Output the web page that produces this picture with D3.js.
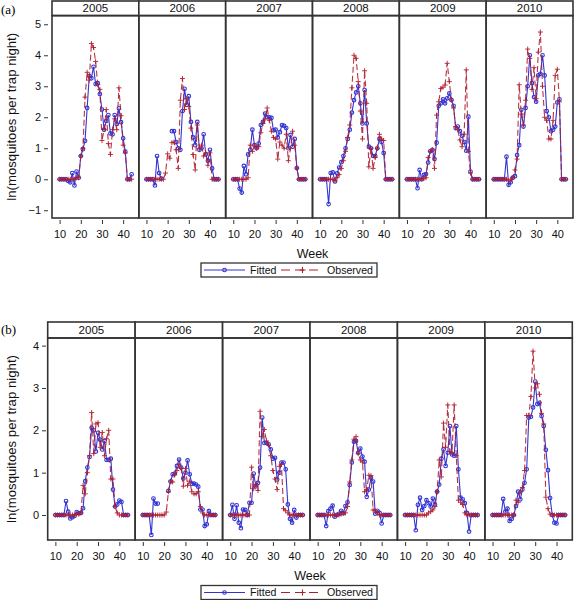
<!DOCTYPE html>
<html><head><meta charset="utf-8">
<script src="https://cdn.jsdelivr.net/npm/d3@7"></script>
<style>body{margin:0;background:#fff}svg{display:block}</style>
</head><body>
<svg id="c" width="574" height="600"></svg>
<script>
// ---------------- DATA ----------------
const weeks = d3.range(10, 45); // 10..44
const years = ["2005", "2006", "2007", "2008", "2009", "2010"];
const yTicksA = [-1, 0, 1, 2, 3, 4, 5];
const yTicksB = [0, 1, 2, 3, 4];
const xTicks = [10, 20, 30, 40];
const seriesNames = ["Fitted", "Observed"];

// Panel (a)
const fittedA2005 = [0,0,0,0,-0.05,-0.1,0.2,-0.2,0.25,0.05,0.75,0.97,1.24,2.3,3.33,3.26,3.63,3.07,3.1,2.75,2.25,1.6,1.88,2.07,1.48,1.45,2.07,1.78,2.29,1.84,1.32,0.89,0,0,0.16];
const observedA2005 = [0,0,0,0,0,0,0,0,0.05,0.05,0.75,1.0,2.65,3.45,3.2,4.38,4.25,3.8,3.05,2.9,1.25,1.6,2.25,1.15,0.8,1.6,1.95,1.6,2.95,2.05,1.1,0.85,0,0,0];
const fittedA2006 = [0,0,0,0,-0.2,0.75,0.2,0.02,null,null,null,null,1.55,1.55,1.2,1.0,0.95,2.2,2.92,2.4,2.68,1.85,1.35,1.1,1.85,0.95,1.0,1.45,0.8,0.6,0.95,0.35,0,0,0];
const observedA2006 = [0,0,0,0,0,0,0,0,0,0.2,0.82,0.68,1.18,1.2,0.95,0.35,2.55,3.25,2.25,2.6,2.35,1.65,0.8,0.3,1.75,1.0,1.1,0.75,0.85,0.45,0.85,0,0,0,0];
const fittedA2007 = [0,0,0,-0.3,-0.43,0.43,0.16,0.8,0.95,1.6,1.1,1.0,1.15,1.75,1.85,2.12,2.0,2.0,1.98,1.58,1.6,1.35,1.52,1.75,1.72,1.65,1.0,1.43,1.05,1.3,0.36,0,0,0,0];
const observedA2007 = [0,0,0,0,0,0,0,0.05,1.1,0.9,1.1,1.0,1.05,1.5,1.8,1.95,2.3,1.9,1.55,1.35,1.3,0.65,1.2,1.1,1.0,1.45,0.6,1.0,1.55,1.1,0.36,0,0,0,0];
const fittedA2008 = [0,0,0,0,-0.8,0.2,0.22,-0.07,0.19,0.38,0.55,0.75,1.0,1.3,1.6,2.15,2.55,2.8,3.0,2.45,1.8,2.88,1.8,1.05,1.0,0.75,0.75,1.0,1.3,1.2,0.85,0,0,0,0];
const observedA2008 = [0,0,0,0,0,0,0,-0.05,0.05,0.15,0.35,0.6,0.9,1.35,1.75,2.95,4.0,3.9,3.15,2.2,1.3,3.5,2.45,0.4,1.0,0.35,0.7,1.0,1.45,1.3,1.25,0,0,0,0];
const fittedA2009 = [0,0,0,0,0,-0.29,0.3,0,0.14,0.17,0.54,0.9,0.95,0.65,1.18,2.37,2.45,2.58,2.45,2.61,2.77,2.56,2.37,1.65,1.7,1.55,1.4,1.2,0.92,2.02,0.25,0,0,0,0];
const observedA2009 = [0,0,0,0,0,0,0,0,0.02,0.05,0.7,0.9,0.95,0.35,2.07,2.5,2.93,2.97,3.04,3.74,3.15,2.55,2.3,1.7,1.6,1.27,1.05,1.45,3.53,0.9,0.2,0,0,0,0];
const fittedA2010 = [0,0,0,0,0,0,0.73,-0.18,-0.1,0.05,0.1,0.78,1.1,2.24,1.7,2.3,3.0,4.0,3.1,2.65,2.5,3.35,3.4,4.0,3.35,2.2,2.0,1.55,1.6,1.7,2.48,2.58,0,0,0];
const observedA2010 = [0,0,0,0,0,0,0,-0.05,0,0.05,0.3,0.65,3.05,2.1,1.75,2.55,4.2,3.9,2.9,3.6,2.6,4.1,4.75,3.0,2.0,1.9,1.3,1.3,1.9,3.35,3.55,2.5,0,0,0];

// Panel (b)
const fittedB2005 = [0,0,0,0,0,0.33,0.08,-0.08,-0.05,-0.02,0.07,0.04,0.05,0.16,0.8,1.12,1.37,2.06,2.0,1.5,1.94,1.78,1.55,1.75,1.3,1.3,1.33,0.6,0.2,0.25,0.34,0.31,0,0,0];
const observedB2005 = [0,0,0,0,0,0,0,0,0,0,0.02,0.02,0.05,0.7,0.5,1.0,1.4,2.42,1.45,2.15,2.18,1.6,1.95,1.4,1.8,2.0,0.85,0.85,0.2,0.05,0,0,0,0,0];
const fittedB2006 = [0,0,0,0,-0.47,0.39,0.27,0.27,null,null,null,null,0.57,0.79,0.96,0.98,1.16,1.31,1.12,0.86,1.0,1.29,0.96,0.74,0.74,0.72,0.67,0.13,0.13,-0.26,-0.22,0.09,0,0,0];
const observedB2006 = [0,0,0,0,0,0,0,0,0,0,0,0.07,0.55,0.8,0.78,0.95,1.05,1.2,1.1,0.68,1.1,0.7,0.8,0.55,0.5,0.5,0.55,0.2,0.05,0,0,0,0,0,0];
const fittedB2007 = [0,0.24,-0.09,0.23,-0.18,-0.31,0.13,0.12,0.0,0.29,0.29,0.98,0.68,0.76,1.12,2.3,1.7,1.7,1.67,1.55,1.33,1.35,0.84,1.0,1.24,1.24,1.08,0.25,-0.09,-0.18,0.12,-0.06,0,0,0];
const observedB2007 = [0,0,0,0,0,0,0,0,0,0,1.13,0.62,0.72,0.58,2.45,1.85,2.02,1.75,1.65,1.4,1.05,0.85,0.6,1.15,1.2,0.15,0.1,0.05,0,0,0,0,0,0,0];
const fittedB2008 = [0,0,0,0,-0.26,0.09,0.15,0.22,-0.04,0.0,0.03,0.1,0.04,0.21,0.3,0.71,1.24,1.73,1.75,1.47,1.57,1.38,1.26,0.43,0.6,0.88,0.79,0.03,0.1,0.05,-0.2,0,0,0,0];
const observedB2008 = [0,0,0,0,0,0,0,0,0,0,0,0.02,0.05,0.05,0.2,0.78,1.3,1.79,1.85,1.45,1.3,1.25,0.55,0.6,0.94,0.93,0.12,0.1,0.05,0,0,0,0,0,0];
const fittedB2009 = [0,0,0,0,0,-0.36,0.24,0.41,0.12,0.21,0.35,0.28,0.2,0.39,0.25,0.55,0.72,1.33,1.55,1.16,1.47,2.1,1.43,1.4,2.1,1.08,0.41,0.37,0.28,0.05,-0.39,0,0,0,0];
const observedB2009 = [0,0,0,0,0,0,0,0,0,0,0,0.05,0.08,0.12,0.2,0.55,1.3,0.9,2.17,1.6,2.6,1.5,1.47,2.6,1.4,0.35,0.3,0.25,0.05,0,0,0,0,0,0];
const fittedB2010 = [0,0,0,0,0,0.38,0.08,0.15,-0.14,-0.09,0.0,0.21,0.55,0.37,0.6,0.76,1.08,2.3,2.32,2.54,3.15,2.62,2.65,2.34,2.1,1.54,1.06,0.4,0.0,-0.18,-0.2,0,0,0,0];
const observedB2010 = [0,0,0,0,0,0,0,0,0,0,0,0.35,0.3,0.55,0.65,1.05,2.35,2.35,2.8,3.87,3.0,3.1,2.85,2.4,2.15,0.42,0.15,0.02,0,0,0,0,0,0,0];

// build tables
const fittedA = [fittedA2005, fittedA2006, fittedA2007, fittedA2008, fittedA2009, fittedA2010];
const observedA = [observedA2005, observedA2006, observedA2007, observedA2008, observedA2009, observedA2010];
const fittedB = [fittedB2005, fittedB2006, fittedB2007, fittedB2008, fittedB2009, fittedB2010];
const observedB = [observedB2005, observedB2006, observedB2007, observedB2008, observedB2009, observedB2010];

// ---------------- DRAW ----------------
const svg = d3.select("#c");
const BLUE = "#3434d2", RED = "#b01e2e", FRAME = "#333";
const FONT = "'Liberation Sans', Arial, sans-serif";

function drawBlock(cfg) {
  const g = svg.append("g");
  const band = d3.scaleBand().domain(years).range([cfg.left, cfg.right]).padding(0);
  const bw = band.bandwidth();
  const x = d3.scaleLinear().domain([6.4, 47.4]).range([0, bw]);
  const y = d3.scaleLinear().domain(cfg.yDomain).range([cfg.plotBottom, cfg.plotTop]);

  // label (a)/(b)
  g.append("text").attr("x", 1).attr("y", cfg.labelY)
    .attr("font-family", "'Liberation Serif', 'Times New Roman', serif")
    .attr("font-size", 13).text(cfg.label);

  // y axis label
  g.append("text")
    .attr("transform", `translate(${cfg.yLabelX},${(cfg.plotTop + cfg.plotBottom) / 2}) rotate(-90)`)
    .attr("text-anchor", "middle").attr("font-family", FONT).attr("font-size", 13.2)
    .attr("fill", "#111")
    .text("ln(mosquitoes per trap night)");

  // y axis
  const yAxis = d3.axisLeft(y).tickValues(cfg.yTicks).tickSize(4).tickPadding(3).tickFormat(d3.format("d"));
  const ya = g.append("g").attr("transform", `translate(${cfg.yAxisX},0)`).call(yAxis);
  ya.select(".domain").remove();
  ya.selectAll("text").attr("font-family", FONT).attr("font-size", 11).attr("fill", "#111");
  ya.selectAll("line").attr("stroke", "#333");

  years.forEach((yr, i) => {
    const x0 = band(yr);
    const pg = g.append("g").attr("transform", `translate(${x0},0)`);
    // strip
    pg.append("rect").attr("x", 0).attr("y", cfg.stripTop).attr("width", bw)
      .attr("height", cfg.plotTop - cfg.stripTop).attr("fill", "#fff")
      .attr("stroke", FRAME).attr("stroke-width", 1.6);
    pg.append("text").attr("x", bw / 2).attr("y", cfg.stripTop + (cfg.plotTop - cfg.stripTop) / 2 + 4)
      .attr("text-anchor", "middle").attr("font-family", FONT).attr("font-size", 11.5)
      .attr("fill", "#111").text(yr);

    // x axis
    const xa = pg.append("g").attr("transform", `translate(0,${cfg.plotBottom + 2})`)
      .call(d3.axisBottom(x).tickValues(xTicks).tickSize(4).tickPadding(6));
    xa.select(".domain").remove();
    xa.selectAll("text").attr("font-family", FONT).attr("font-size", 11).attr("fill", "#111");
    xa.selectAll("line").attr("stroke", "#333");

    const fit = cfg.fitted[i].map((v, k) => ({ w: weeks[k], v }));
    const obs = cfg.observed[i].map((v, k) => ({ w: weeks[k], v }));
    const line = d3.line().defined(d => d.v !== null).x(d => x(d.w)).y(d => y(d.v));

    // fitted
    pg.append("path").datum(fit).attr("d", line).attr("fill", "none")
      .attr("stroke", BLUE).attr("stroke-width", 1.1);
    pg.selectAll("circle.f").data(fit.filter(d => d.v !== null)).join("circle")
      .attr("cx", d => x(d.w)).attr("cy", d => y(d.v)).attr("r", 1.8)
      .attr("fill", "none").attr("stroke", BLUE).attr("stroke-width", 1.1);

    // observed
    pg.append("path").datum(obs).attr("d", line).attr("fill", "none")
      .attr("stroke", RED).attr("stroke-width", 1.1).attr("stroke-dasharray", "6,3")
      .attr("opacity", 0.9);
    pg.selectAll("path.p").data(obs.filter(d => d.v !== null)).join("path")
      .attr("d", d => `M${x(d.w) - 2.5},${y(d.v)}H${x(d.w) + 2.5}M${x(d.w)},${y(d.v) - 2.5}V${y(d.v) + 2.5}`)
      .attr("stroke", RED).attr("stroke-width", 1).attr("opacity", 0.9);

    // panel frame
    pg.append("rect").attr("x", 0).attr("y", cfg.plotTop).attr("width", bw)
      .attr("height", cfg.plotBottom - cfg.plotTop).attr("fill", "none")
      .attr("stroke", FRAME).attr("stroke-width", 1.6);
  });

  // Week label
  g.append("text").attr("x", (cfg.left + cfg.right) / 2).attr("y", cfg.weekY)
    .attr("text-anchor", "middle").attr("font-family", FONT).attr("font-size", 12.5)
    .attr("fill", "#111").text("Week");

  // legend
  const lg = g.append("g").attr("transform", `translate(201,${cfg.legendY})`);
  lg.append("rect").attr("width", 176).attr("height", 14).attr("fill", "#fff")
    .attr("stroke", FRAME).attr("stroke-width", 1.3);
  const cy = 7;
  lg.append("line").attr("x1", 3).attr("x2", 44).attr("y1", cy).attr("y2", cy)
    .attr("stroke", BLUE).attr("stroke-width", 1.1);
  lg.append("circle").attr("cx", 23.5).attr("cy", cy).attr("r", 1.8)
    .attr("fill", "none").attr("stroke", BLUE).attr("stroke-width", 1.1);
  lg.append("text").attr("x", 49).attr("y", cy + 3.8).attr("font-family", FONT)
    .attr("font-size", 10.6).attr("fill", "#111").text(seriesNames[0]);
  lg.append("line").attr("x1", 80).attr("x2", 121).attr("y1", cy).attr("y2", cy)
    .attr("stroke", RED).attr("stroke-width", 1.1).attr("stroke-dasharray", "9,5");
  lg.append("path").attr("d", `M${101.5 - 3},${cy}H${101.5 + 3}M101.5,${cy - 3}V${cy + 3}`)
    .attr("stroke", RED).attr("stroke-width", 1.1);
  lg.append("text").attr("x", 126).attr("y", cy + 3.8).attr("font-family", FONT)
    .attr("font-size", 10.6).attr("fill", "#111").text(seriesNames[1]);
}

drawBlock({
  label: "(a)", labelY: 14, left: 52, right: 573, stripTop: 1, plotTop: 15.6, plotBottom: 218,
  yDomain: [-1.25, 5.28], yTicks: yTicksA, yAxisX: 48, yLabelX: 16, weekY: 258, legendY: 263,
  fitted: fittedA, observed: observedA
});
drawBlock({
  label: "(b)", labelY: 334, left: 47.7, right: 572.3, stripTop: 322, plotTop: 338, plotBottom: 540,
  yDomain: [-0.59, 4.18], yTicks: yTicksB, yAxisX: 46, yLabelX: 16, weekY: 580, legendY: 585.5,
  fitted: fittedB, observed: observedB
});
</script>
</body></html>
